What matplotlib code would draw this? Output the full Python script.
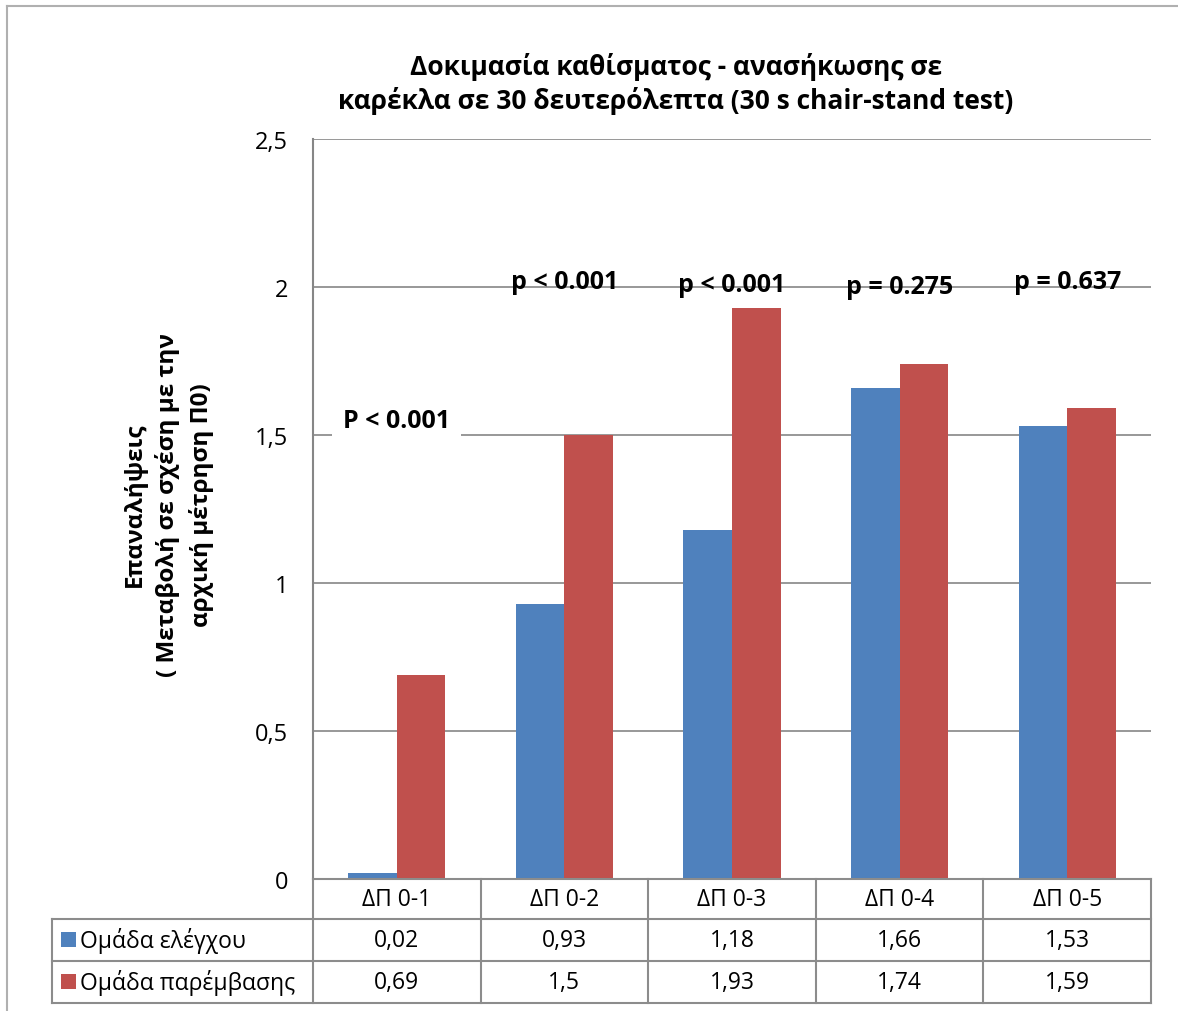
import matplotlib
matplotlib.use("Agg")
import matplotlib.pyplot as plt
import matplotlib.transforms as mtransforms
from matplotlib.patches import Rectangle
from matplotlib.lines import Line2D
import numpy as np

plt.rcParams['font.family'] = ['Open Sans', 'DejaVu Sans']

categories = ["ΔΠ 0-1", "ΔΠ 0-2", "ΔΠ 0-3", "ΔΠ 0-4", "ΔΠ 0-5"]
series_names = ["Ομάδα ελέγχου", "Ομάδα παρέμβασης"]
control = [0.02, 0.93, 1.18, 1.66, 1.53]
intervention = [0.69, 1.5, 1.93, 1.74, 1.59]
control_labels = ["0,02", "0,93", "1,18", "1,66", "1,53"]
intervention_labels = ["0,69", "1,5", "1,93", "1,74", "1,59"]
y_ticks = [0, 0.5, 1, 1.5, 2, 2.5]
y_tick_labels = ["0", "0,5", "1", "1,5", "2", "2,5"]
p_labels = ["P < 0.001", "p < 0.001", "p < 0.001", "p = 0.275", "p = 0.637"]
p_label_y = [1.55, 2.02, 2.01, 2.0, 2.02]

blue = "#4f81bd"
red = "#c0504d"
grid_c = "#868686"

W, H = 1178, 1012
fig = plt.figure(figsize=(W / 100, H / 100), dpi=100)


def fx(px):
    return px / W


def fy(py):
    return 1 - py / H


# outer chart frame
fig.add_artist(Line2D([fx(7), fx(7)], [fy(7), 0], color="#b0b0b0", lw=1.5))
fig.add_artist(Line2D([fx(7), 1], [fy(7), fy(7)], color="#b0b0b0", lw=1.5))

ax_l, ax_r, ax_t, ax_b = 313, 1151, 140, 880
ax = fig.add_axes([fx(ax_l), fy(ax_b), fx(ax_r - ax_l), (ax_b - ax_t) / H])

x = np.arange(len(categories))
bw = 0.29
ax.bar(x - bw / 2, control, bw, color=blue, zorder=3)
ax.bar(x + bw / 2, intervention, bw, color=red, zorder=3)

ax.set_xlim(-0.5, len(categories) - 0.5)
ax.set_ylim(0, 2.5)
ax.set_yticks(y_ticks)
ax.set_yticklabels(y_tick_labels, fontsize=17)
ax.set_xticks([])
ax.tick_params(axis="y", length=0, pad=18)
for yv in y_ticks:
    ax.axhline(yv, color=grid_c, lw=1.2, zorder=1)
for s in ["top", "right", "bottom"]:
    ax.spines[s].set_visible(False)
ax.spines["left"].set_color(grid_c)
ax.spines["left"].set_linewidth(1.5)

# significance annotations above each group
for i, (lab, yv) in enumerate(zip(p_labels, p_label_y)):
    kw = dict(ha="center", va="center", fontsize=18, fontweight="bold", zorder=5)
    if i == 0:
        kw["bbox"] = dict(facecolor="white", edgecolor="none", pad=8)
    ax.text(x[i], yv, lab, **kw)

# vertical axis title
fig.text(fx(168), fy(505), "Επαναλήψεις\n( Μεταβολή σε σχέση με την\nαρχική μέτρηση Π0)",
         rotation=90, ha="center", va="center", multialignment="center",
         fontsize=17.5, fontweight="bold", linespacing=1.45)

fig.text(fx(676), fy(84),
         "Δοκιμασία καθίσματος - ανασήκωσης σε\nκαρέκλα σε 30 δευτερόλεπτα (30 s chair-stand test)",
         ha="center", va="center", fontsize=19, fontweight="bold", linespacing=1.25)

# data table under the axis
trans = mtransforms.blended_transform_factory(ax.transData, fig.transFigure)
row_y = [880, 920, 962, 1004]
tbl_left = 52
lc = "#8c8c8c"
edges = np.arange(len(categories) + 1) - 0.5
for xe in edges:
    fig.add_artist(Line2D([xe, xe], [fy(row_y[0]), fy(row_y[-1])], transform=trans, color=lc, lw=1.5))
fig.add_artist(Line2D([-0.5, len(categories) - 0.5], [fy(row_y[0]), fy(row_y[0])],
                      transform=trans, color=lc, lw=1.5))
for ry in row_y[1:]:
    fig.add_artist(Line2D([fx(tbl_left), fx(ax_r)], [fy(ry), fy(ry)], color=lc, lw=1.5))
fig.add_artist(Line2D([fx(tbl_left), fx(tbl_left)], [fy(row_y[1]), fy(row_y[-1])], color=lc, lw=1.5))

for i, c in enumerate(categories):
    fig.text(x[i], fy((row_y[0] + row_y[1]) / 2), c, transform=trans, fontsize=16.5,
             ha="center", va="center")

rows = [(series_names[0], blue, control_labels), (series_names[1], red, intervention_labels)]
for r, (name, col, labs) in enumerate(rows):
    yc = (row_y[r + 1] + row_y[r + 2]) / 2
    fig.add_artist(Rectangle((fx(61), fy(yc + 7)), 15 / W, 15 / H, facecolor=col, edgecolor="none"))
    fig.text(fx(80), fy(yc), name, fontsize=16.5, ha="left", va="center")
    for i, lab in enumerate(labs):
        fig.text(x[i], fy(yc), lab, transform=trans, fontsize=16.5, ha="center", va="center")

fig.savefig("out.png", dpi=100)
